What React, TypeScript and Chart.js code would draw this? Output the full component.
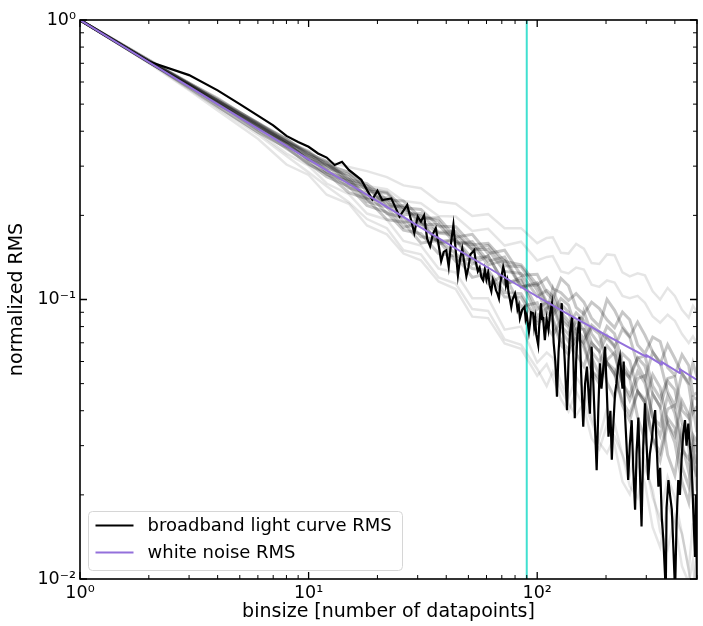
import React, { useEffect, useRef } from 'react';
import { Chart, registerables } from 'chart.js';

Chart.register(...registerables);

// ---------- data ----------
const binsizeWhite = [1, 2, 3, 4, 5, 7, 10, 14, 20, 30, 50, 70, 100, 140, 200, 250, 300, 301, 350, 351, 420, 421, 460, 500];
const rmsWhite = [1.0, 0.7073, 0.5777, 0.5003, 0.4477, 0.3785, 0.317, 0.2682, 0.2247, 0.1839, 0.1431, 0.1216, 0.1025, 0.0875, 0.0745, 0.0676, 0.0624, 0.0631, 0.05855, 0.0597, 0.05455, 0.0563, 0.0538, 0.0516];

const binsizeBroad = [1, 2, 3, 4, 5, 6, 7, 8, 9, 10, 11, 12, 13, 14, 15, 17, 19, 20, 21, 23, 25, 27, 29, 30, 31, 32, 33, 34, 35, 36, 37, 38, 39, 40, 41, 42, 43, 44, 45, 46, 47, 48, 49, 50, 51, 53, 54, 55, 56, 57, 58, 59, 60, 61, 62, 63, 64, 65, 66, 67, 68, 69, 71, 72, 73, 74, 75, 76, 77, 78, 80, 81, 82, 83, 84, 86, 88, 89, 90, 92, 93, 94, 96, 97, 98, 99, 101, 102, 104, 105, 106, 108, 110, 112, 114, 116, 118, 120, 122, 124, 126, 128, 130, 132, 135, 137, 139, 142, 144, 146, 148, 150, 153, 155, 157, 159, 162, 165, 168, 170, 173, 176, 179, 182, 185, 188, 191, 194, 198, 201, 205, 209, 212, 215, 219, 222, 226, 230, 233, 236, 239, 242, 246, 250, 254, 259, 263, 268, 272, 277, 281, 286, 291, 296, 301, 306, 311, 317, 322, 328, 333, 339, 345, 351, 356, 362, 365, 368, 375, 381, 388, 394, 401, 407, 414, 421, 428, 435, 443, 450, 458, 465, 473, 481, 490, 495, 500];
const rmsBroad = [1.0, 0.71, 0.635, 0.56, 0.50, 0.455, 0.42, 0.385, 0.366, 0.352, 0.333, 0.322, 0.303, 0.311, 0.291, 0.268, 0.228, 0.245, 0.227, 0.230, 0.198, 0.218, 0.173, 0.198, 0.19, 0.200, 0.165, 0.155, 0.172, 0.180, 0.158, 0.137, 0.148, 0.150, 0.131, 0.16, 0.185, 0.15, 0.122, 0.14, 0.152, 0.135, 0.121, 0.13, 0.145, 0.150, 0.135, 0.126, 0.13, 0.12, 0.117, 0.128, 0.118, 0.125, 0.112, 0.107, 0.118, 0.114, 0.108, 0.105, 0.101, 0.115, 0.131, 0.125, 0.112, 0.117, 0.105, 0.10, 0.094, 0.10, 0.105, 0.0996, 0.092, 0.095, 0.0857, 0.092, 0.094, 0.085, 0.088, 0.0767, 0.082, 0.09, 0.0893, 0.08, 0.085, 0.075, 0.0687, 0.08, 0.097, 0.085, 0.0867, 0.0716, 0.085, 0.078, 0.09, 0.097, 0.07, 0.06, 0.0449, 0.065, 0.08, 0.097, 0.075, 0.06, 0.0402, 0.06, 0.075, 0.0867, 0.06, 0.0376, 0.06, 0.075, 0.0867, 0.06, 0.045, 0.0351, 0.05, 0.0575, 0.045, 0.039, 0.0678, 0.05, 0.035, 0.0245, 0.04, 0.0591, 0.048, 0.055, 0.0678, 0.05, 0.0323, 0.04, 0.0267, 0.035, 0.0462, 0.05, 0.058, 0.0624, 0.055, 0.048, 0.06, 0.039, 0.03, 0.0226, 0.03, 0.037, 0.025, 0.0177, 0.028, 0.0378, 0.025, 0.0154, 0.03, 0.0425, 0.03, 0.0226, 0.028, 0.0314, 0.036, 0.0402, 0.03, 0.0214, 0.025, 0.0163, 0.014, 0.0105, 0.009, 0.018, 0.0226, 0.02, 0.0177, 0.013, 0.009, 0.016, 0.0226, 0.02, 0.0267, 0.033, 0.037, 0.03, 0.036, 0.03, 0.0267, 0.018, 0.012, 0.02, 0.0095];

// spectroscopic channel curves (faint)
const binsizeChannels = [1, 2, 3, 4, 6, 8, 10, 12, 15, 18, 22, 26, 31, 37, 44, 52, 61, 72, 85, 100, 110, 117, 127, 137, 148, 160, 173, 187, 202, 218, 236, 254, 275, 296, 320, 345, 372, 400, 430, 460, 480, 500];
const channel01 = [1.0, 0.714, 0.590, 0.515, 0.421, 0.361, 0.317, 0.301, 0.275, 0.231, 0.231, 0.201, 0.203, 0.174, 0.175, 0.151, 0.156, 0.132, 0.131, 0.108, 0.0901, 0.1095, 0.0898, 0.0840, 0.0682, 0.0905, 0.0754, 0.0690, 0.0801, 0.0754, 0.0592, 0.0537, 0.0618, 0.0628, 0.0490, 0.0443, 0.0522, 0.0531, 0.0401, 0.0377, 0.0448, 0.0439];
const channel02 = [1.0, 0.707, 0.584, 0.510, 0.413, 0.365, 0.314, 0.280, 0.264, 0.224, 0.214, 0.181, 0.188, 0.161, 0.164, 0.140, 0.143, 0.114, 0.117, 0.0871, 0.0930, 0.0952, 0.0779, 0.0707, 0.0785, 0.0782, 0.0619, 0.0537, 0.0608, 0.0646, 0.0501, 0.0436, 0.0521, 0.0534, 0.0379, 0.0325, 0.0406, 0.0419, 0.0306, 0.0242, 0.0327, 0.0310];
const channel03 = [1.0, 0.714, 0.595, 0.520, 0.429, 0.375, 0.333, 0.312, 0.269, 0.260, 0.227, 0.225, 0.195, 0.196, 0.167, 0.171, 0.146, 0.150, 0.122, 0.123, 0.1057, 0.1000, 0.119, 0.112, 0.0938, 0.0888, 0.0978, 0.0928, 0.0846, 0.0793, 0.0902, 0.0846, 0.0688, 0.0641, 0.0734, 0.0708, 0.0571, 0.0536, 0.0635, 0.0581, 0.0455, 0.0464];
const channel04 = [1.0, 0.707, 0.578, 0.505, 0.405, 0.347, 0.307, 0.275, 0.254, 0.217, 0.205, 0.177, 0.172, 0.146, 0.143, 0.120, 0.124, 0.102, 0.102, 0.0820, 0.0862, 0.0838, 0.0687, 0.0636, 0.0725, 0.0700, 0.0556, 0.0499, 0.0594, 0.0560, 0.0418, 0.0369, 0.0469, 0.0440, 0.0318, 0.0283, 0.0377, 0.0347, 0.0251, 0.0215, 0.0290, 0.0258];
const channel05 = [1.0, 0.714, 0.590, 0.510, 0.425, 0.365, 0.336, 0.295, 0.280, 0.245, 0.240, 0.207, 0.199, 0.191, 0.161, 0.157, 0.133, 0.138, 0.111, 0.1128, 0.0959, 0.0876, 0.0962, 0.0902, 0.0751, 0.0700, 0.0794, 0.0752, 0.0594, 0.0539, 0.0640, 0.0604, 0.0469, 0.0427, 0.0539, 0.0484, 0.0360, 0.0324, 0.0434, 0.0387, 0.0316, 0.0284];
const channel06 = [1.0, 0.721, 0.595, 0.525, 0.425, 0.375, 0.327, 0.309, 0.264, 0.255, 0.214, 0.217, 0.185, 0.186, 0.158, 0.161, 0.137, 0.142, 0.111, 0.1148, 0.0979, 0.0904, 0.1008, 0.0955, 0.0785, 0.0724, 0.0810, 0.0767, 0.0726, 0.0677, 0.0784, 0.0733, 0.0584, 0.0520, 0.0647, 0.0597, 0.0467, 0.0417, 0.0544, 0.0495, 0.0394, 0.0415];
const channel07 = [1.0, 0.707, 0.572, 0.490, 0.397, 0.350, 0.304, 0.283, 0.241, 0.229, 0.193, 0.189, 0.159, 0.163, 0.137, 0.140, 0.114, 0.122, 0.0944, 0.0974, 0.0803, 0.0743, 0.0843, 0.0796, 0.0640, 0.0576, 0.0699, 0.0652, 0.0505, 0.0445, 0.0571, 0.0523, 0.0378, 0.0314, 0.0459, 0.0413, 0.0278, 0.0235, 0.0345, 0.0296, 0.0200, 0.0155];
const channel08 = [1.0, 0.714, 0.590, 0.515, 0.417, 0.368, 0.323, 0.303, 0.259, 0.250, 0.220, 0.213, 0.190, 0.173, 0.170, 0.151, 0.151, 0.126, 0.124, 0.1025, 0.1077, 0.1028, 0.0870, 0.0813, 0.0896, 0.0839, 0.0699, 0.0652, 0.0742, 0.0682, 0.0557, 0.0523, 0.0618, 0.0578, 0.0459, 0.0413, 0.0510, 0.0475, 0.0362, 0.0334, 0.0411, 0.0335];
const channel09 = [1.0, 0.707, 0.584, 0.500, 0.417, 0.354, 0.327, 0.286, 0.269, 0.229, 0.225, 0.189, 0.192, 0.158, 0.164, 0.134, 0.143, 0.113, 0.120, 0.0923, 0.0979, 0.0971, 0.0806, 0.0751, 0.0836, 0.0782, 0.0651, 0.0598, 0.0683, 0.0632, 0.0501, 0.0456, 0.0553, 0.0502, 0.0379, 0.0354, 0.0452, 0.0391, 0.0290, 0.0269, 0.0306, 0.0206];
const channel10 = [1.0, 0.714, 0.590, 0.515, 0.429, 0.368, 0.339, 0.303, 0.285, 0.250, 0.242, 0.213, 0.210, 0.183, 0.182, 0.157, 0.159, 0.137, 0.133, 0.1128, 0.1194, 0.1095, 0.1058, 0.0992, 0.105, 0.0978, 0.0856, 0.0802, 0.1001, 0.0915, 0.080, 0.0738, 0.083, 0.0746, 0.065, 0.059, 0.0689, 0.0615, 0.0543, 0.0505, 0.0593, 0.0529];
const channel11 = [1.0, 0.707, 0.584, 0.505, 0.409, 0.361, 0.317, 0.292, 0.251, 0.241, 0.203, 0.197, 0.168, 0.163, 0.146, 0.129, 0.127, 0.106, 0.105, 0.0841, 0.0901, 0.0857, 0.0714, 0.0663, 0.0751, 0.0675, 0.0556, 0.0522, 0.0594, 0.0539, 0.0432, 0.0389, 0.0469, 0.0427, 0.0318, 0.0266, 0.0360, 0.0307, 0.0223, 0.0188, 0.0264, 0.0232];
const channel12 = [1.0, 0.707, 0.584, 0.510, 0.421, 0.368, 0.333, 0.312, 0.298, 0.288, 0.274, 0.256, 0.250, 0.224, 0.220, 0.199, 0.202, 0.180, 0.180, 0.159, 0.166, 0.167, 0.147, 0.146, 0.158, 0.152, 0.135, 0.134, 0.145, 0.144, 0.125, 0.121, 0.124, 0.122, 0.107, 0.100, 0.110, 0.103, 0.0919, 0.0861, 0.0949, 0.0903];
const channel13 = [1.0, 0.707, 0.584, 0.505, 0.417, 0.365, 0.330, 0.306, 0.285, 0.255, 0.248, 0.225, 0.221, 0.199, 0.198, 0.176, 0.179, 0.156, 0.161, 0.138, 0.142, 0.143, 0.126, 0.124, 0.130, 0.128, 0.113, 0.111, 0.117, 0.115, 0.103, 0.101, 0.103, 0.0973, 0.0869, 0.0826, 0.0882, 0.0839, 0.0752, 0.0699, 0.0738, 0.0697];
const channel14 = [1.0, 0.700, 0.561, 0.475, 0.376, 0.304, 0.279, 0.237, 0.220, 0.184, 0.171, 0.146, 0.138, 0.116, 0.109, 0.0868, 0.0858, 0.0696, 0.0666, 0.0533, 0.0587, 0.0524, 0.0440, 0.0398, 0.0469, 0.0412, 0.0318, 0.0291, 0.0356, 0.0302, 0.0223, 0.0201, 0.0260, 0.0220, 0.0153, 0.0130, 0.0186, 0.0157, 0.0111, 0.0097, 0.0116, 0.0077];
const channel15 = [1.0, 0.707, 0.566, 0.485, 0.389, 0.326, 0.285, 0.254, 0.223, 0.194, 0.180, 0.150, 0.145, 0.120, 0.114, 0.0924, 0.091, 0.072, 0.0688, 0.0564, 0.0490, 0.0552, 0.0476, 0.0424, 0.0384, 0.0428, 0.0365, 0.0307, 0.0282, 0.0323, 0.0278, 0.0215, 0.0195, 0.0251, 0.0208, 0.0148, 0.0128, 0.0168, 0.0145, 0.0108, 0.0084, 0.0129];
const channel16 = [1.0, 0.707, 0.572, 0.490, 0.397, 0.333, 0.301, 0.260, 0.238, 0.203, 0.193, 0.162, 0.156, 0.129, 0.125, 0.101, 0.101, 0.078, 0.080, 0.0595, 0.0646, 0.0619, 0.0504, 0.0442, 0.0529, 0.0477, 0.0381, 0.0322, 0.0408, 0.0359, 0.0278, 0.0235, 0.0312, 0.0264, 0.0196, 0.0165, 0.0232, 0.0196, 0.0145, 0.0108, 0.0158, 0.0114];
const coreChannels = [channel01, channel02, channel03, channel04, channel05, channel06, channel07, channel08, channel09, channel10, channel11];
const outlierChannels = [channel12, channel13, channel14, channel15, channel16];

const cutoffBinsize = 90;

const seriesLabels = ['broadband light curve RMS', 'white noise RMS'];
const xTickValues = [1, 10, 100];
const xTickLabels = ['10\u2070', '10\u00b9', '10\u00b2'];
const xMinorTicks = [2, 3, 4, 5, 6, 7, 8, 9, 20, 30, 40, 50, 60, 70, 80, 90, 200, 300, 400, 500];
const yTickValues = [0.01, 0.1, 1];
const yTickLabels = ['10\u207b\u00b2', '10\u207b\u00b9', '10\u2070'];
const yMinorTicks = [0.02, 0.03, 0.04, 0.05, 0.06, 0.07, 0.08, 0.09, 0.2, 0.3, 0.4, 0.5, 0.6, 0.7, 0.8, 0.9];

const X_MIN = 1;
const X_MAX = 500;
const Y_MIN = 0.01;
const Y_MAX = 1;

const FONT = "'DejaVu Sans', sans-serif";
const BLACK = '#000000';
const PURPLE = '#9370DB';
const CYAN = '#40E0D0';
const CORE_GRAY = 'rgba(0,0,0,0.22)';
const FAINT_GRAY = 'rgba(0,0,0,0.1)';

const toPts = (xs: number[], ys: number[]) => xs.map((x, i) => ({ x, y: ys[i] }));

const frameTicksPlugin = {
  id: 'frameTicks',
  afterDatasetsDraw(chart: any) {
    const { ctx, chartArea: a, scales } = chart;
    const xs = scales.x;
    const ys = scales.y;
    ctx.save();
    ctx.strokeStyle = '#000';
    const vx = (v: number, len: number, w: number) => {
      const p = xs.getPixelForValue(v);
      ctx.lineWidth = w;
      ctx.beginPath();
      ctx.moveTo(p, a.bottom);
      ctx.lineTo(p, a.bottom - len);
      ctx.moveTo(p, a.top);
      ctx.lineTo(p, a.top + len);
      ctx.stroke();
    };
    const hy = (v: number, len: number, w: number) => {
      const p = ys.getPixelForValue(v);
      ctx.lineWidth = w;
      ctx.beginPath();
      ctx.moveTo(a.left, p);
      ctx.lineTo(a.left + len, p);
      ctx.moveTo(a.right, p);
      ctx.lineTo(a.right - len, p);
      ctx.stroke();
    };
    xTickValues.forEach((v) => vx(v, 7, 1.3));
    xMinorTicks.forEach((v) => vx(v, 4, 1));
    yTickValues.forEach((v) => hy(v, 7, 1.3));
    yMinorTicks.forEach((v) => hy(v, 4, 1));
    ctx.lineWidth = 1.6;
    ctx.strokeRect(a.left, a.top, a.right - a.left, a.bottom - a.top);
    ctx.restore();
  },
};

const legendPlugin = {
  id: 'boxLegend',
  afterDraw(chart: any) {
    const { ctx, chartArea: a } = chart;
    const x0 = a.left + 8.5;
    const y0 = a.bottom - 67.5;
    const w = 314;
    const h = 59;
    const r = 4;
    ctx.save();
    ctx.beginPath();
    ctx.moveTo(x0 + r, y0);
    ctx.lineTo(x0 + w - r, y0);
    ctx.arcTo(x0 + w, y0, x0 + w, y0 + r, r);
    ctx.lineTo(x0 + w, y0 + h - r);
    ctx.arcTo(x0 + w, y0 + h, x0 + w - r, y0 + h, r);
    ctx.lineTo(x0 + r, y0 + h);
    ctx.arcTo(x0, y0 + h, x0, y0 + h - r, r);
    ctx.lineTo(x0, y0 + r);
    ctx.arcTo(x0, y0, x0 + r, y0, r);
    ctx.closePath();
    ctx.fillStyle = 'rgba(255,255,255,0.85)';
    ctx.fill();
    ctx.strokeStyle = '#d6d6d6';
    ctx.lineWidth = 1;
    ctx.stroke();
    const colors = [BLACK, PURPLE];
    const widths = [2, 2];
    seriesLabels.forEach((lab, i) => {
      const yy = y0 + 14 + i * 27;
      ctx.strokeStyle = colors[i];
      ctx.lineWidth = widths[i];
      ctx.beginPath();
      ctx.moveTo(x0 + 7, yy);
      ctx.lineTo(x0 + 45, yy);
      ctx.stroke();
      ctx.fillStyle = '#000';
      ctx.font = `18px ${FONT}`;
      ctx.textBaseline = 'middle';
      ctx.textAlign = 'left';
      ctx.fillText(lab, x0 + 59, yy + 1);
    });
    ctx.restore();
  },
};

export default function App() {
  const ref = useRef<HTMLCanvasElement | null>(null);

  useEffect(() => {
    if (!ref.current) return;
    Chart.defaults.font.family = FONT;
    const datasets: any[] = [];
    datasets.push({
      label: seriesLabels[1],
      data: toPts(binsizeWhite, rmsWhite),
      borderColor: PURPLE,
      borderWidth: 2,
      pointRadius: 0,
      tension: 0,
      clip: 0,
      order: 0,
    });
    datasets.push({
      label: seriesLabels[0],
      data: toPts(binsizeBroad, rmsBroad),
      borderColor: BLACK,
      borderWidth: 2.2,
      pointRadius: 0,
      tension: 0,
      clip: 0,
      order: 1,
    });
    coreChannels.forEach((c, i) => {
      datasets.push({
        label: 'channel ' + (i + 1),
        data: toPts(binsizeChannels, c),
        borderColor: CORE_GRAY,
        borderWidth: 3,
        pointRadius: 0,
        tension: 0,
        clip: 0,
        order: 2,
      });
    });
    outlierChannels.forEach((c, i) => {
      datasets.push({
        label: 'channel ' + (i + 12),
        data: toPts(binsizeChannels, c),
        borderColor: FAINT_GRAY,
        borderWidth: 2.5,
        pointRadius: 0,
        tension: 0,
        clip: 0,
        order: 2,
      });
    });
    datasets.push({
      label: 'cutoff',
      data: [
        { x: cutoffBinsize, y: Y_MIN },
        { x: cutoffBinsize, y: Y_MAX },
      ],
      borderColor: CYAN,
      borderWidth: 2,
      pointRadius: 0,
      clip: 0,
      order: 3,
    });

    const chart = new Chart(ref.current, {
      type: 'line',
      data: { datasets },
      options: {
        responsive: false,
        animation: false,
        events: [],
        layout: { padding: { left: 0, top: 20, right: 6, bottom: 0 } },
        plugins: {
          legend: { display: false },
          tooltip: { enabled: false },
        },
        scales: {
          x: {
            type: 'logarithmic',
            min: X_MIN,
            max: X_MAX,
            grid: { display: false, drawTicks: false },
            border: { display: false },
            afterBuildTicks: (s: any) => {
              s.ticks = xTickValues.map((v) => ({ value: v }));
            },
            afterFit: (s: any) => {
              s.height = 47;
            },
            ticks: {
              autoSkip: false,
              maxRotation: 0,
              padding: 4,
              color: '#000',
              font: { size: 17.5 },
              callback: (v: any) => {
                const i = xTickValues.indexOf(Number(v));
                return i >= 0 ? xTickLabels[i] : '';
              },
            },
            title: {
              display: true,
              text: 'binsize [number of datapoints]',
              color: '#000',
              font: { size: 19 },
              padding: { top: 0, bottom: 3 },
            },
          },
          y: {
            type: 'logarithmic',
            min: Y_MIN,
            max: Y_MAX,
            grid: { display: false, drawTicks: false },
            border: { display: false },
            afterBuildTicks: (s: any) => {
              s.ticks = yTickValues.map((v) => ({ value: v }));
            },
            afterFit: (s: any) => {
              s.width = 80;
            },
            ticks: {
              autoSkip: false,
              padding: 4,
              color: '#000',
              font: { size: 17.5 },
              callback: (v: any) => {
                const i = yTickValues.findIndex((t) => Math.abs(t - Number(v)) < 1e-9);
                return i >= 0 ? yTickLabels[i] : '';
              },
            },
            title: {
              display: true,
              text: 'normalized RMS',
              color: '#000',
              font: { size: 19 },
              padding: { top: 6, bottom: 0 },
            },
          },
        },
      },
      plugins: [frameTicksPlugin, legendPlugin],
    } as any);
    return () => chart.destroy();
  }, []);

  return (
    <div style={{ position: 'fixed', left: 0, top: 0, width: 703, height: 626, background: '#fff' }}>
      <canvas ref={ref} width={703} height={626} style={{ width: 703, height: 626, display: 'block' }} />
    </div>
  );
}
